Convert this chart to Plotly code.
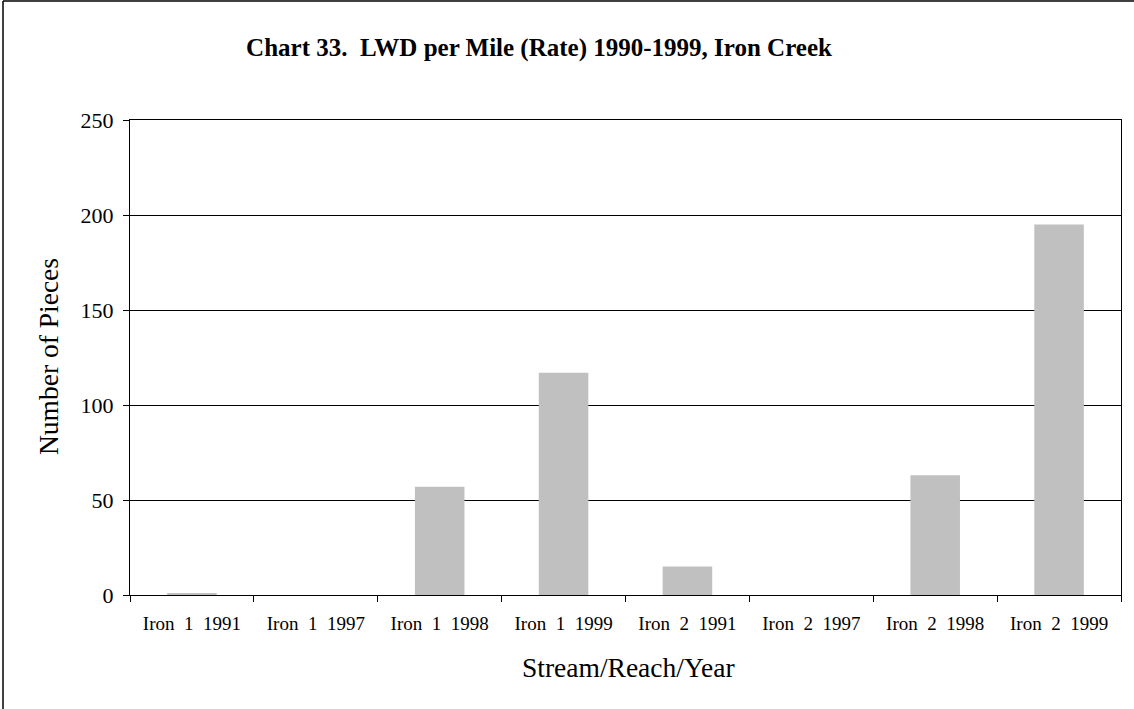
import plotly.graph_objects as go

# LWD pieces per mile by stream / reach / survey year
categories = ["Iron\u00a0\u00a01\u00a0\u00a01991", "Iron\u00a0\u00a01\u00a0\u00a01997",
              "Iron\u00a0\u00a01\u00a0\u00a01998", "Iron\u00a0\u00a01\u00a0\u00a01999",
              "Iron\u00a0\u00a02\u00a0\u00a01991", "Iron\u00a0\u00a02\u00a0\u00a01997",
              "Iron\u00a0\u00a02\u00a0\u00a01998", "Iron\u00a0\u00a02\u00a0\u00a01999"]
pieces = [1, 0, 57, 117, 15, 0, 63, 195]
y_ticks = [0, 50, 100, 150, 200, 250]

FONT = "Liberation Serif, Times New Roman, serif"

W, H = 1134, 709
L, R, T, B = 130, 13, 120, 114


def px_x(px):
    return (px - L) / (W - L - R)


def px_y(py):
    return (H - B - py) / (H - T - B)


fig = go.Figure(go.Bar(
    x=categories, y=pieces,
    marker=dict(color="#c0c0c0", line=dict(width=0)),
))

fig.update_layout(
    width=W, height=H,
    margin=dict(l=L, r=R, t=T, b=B),
    paper_bgcolor="white", plot_bgcolor="white",
    bargap=0.6,
    showlegend=False,
    font=dict(family=FONT, color="black"),
    title=dict(
        text="<b>Chart 33.  LWD per Mile (Rate) 1990-1999, Iron Creek</b>",
        x=539 / W, xanchor="center", xref="container",
        y=1 - 47 / H, yanchor="middle", yref="container",
        font=dict(family=FONT, size=25, color="black"),
    ),
    xaxis=dict(
        type="category",
        tickson="boundaries", ticks="outside", ticklen=6, tickcolor="black",
        ticklabelstandoff=11,
        showline=True, linecolor="black", linewidth=1, mirror=True,
        showgrid=False,
        tickfont=dict(family=FONT, size=19),
    ),
    yaxis=dict(
        range=[0, 250], tickvals=y_ticks,
        ticks="outside", ticklen=6, tickcolor="black",
        ticklabelstandoff=5,
        showline=True, linecolor="black", linewidth=1, mirror=True,
        showgrid=True, gridcolor="black", gridwidth=1,
        zeroline=False,
        tickfont=dict(family=FONT, size=22),
    ),
    annotations=[
        dict(text="Stream/Reach/Year", xref="paper", yref="paper",
             x=px_x(628), y=px_y(667), xanchor="center", yanchor="middle",
             showarrow=False, font=dict(family=FONT, size=27.5)),
        dict(text="Number of Pieces", xref="paper", yref="paper",
             x=px_x(48), y=px_y(357), xanchor="center", yanchor="middle",
             textangle=-90, showarrow=False, font=dict(family=FONT, size=27.5)),
    ],
    shapes=[
        # outer chart frame: top and left edges
        dict(type="line", xref="paper", yref="paper",
             x0=px_x(3), x1=px_x(1134), y0=px_y(1), y1=px_y(1),
             line=dict(color="black", width=1.5)),
        dict(type="line", xref="paper", yref="paper",
             x0=px_x(3), x1=px_x(3), y0=px_y(1), y1=px_y(709),
             line=dict(color="black", width=1.5)),
    ],
)

fig.write_html("out.html")
